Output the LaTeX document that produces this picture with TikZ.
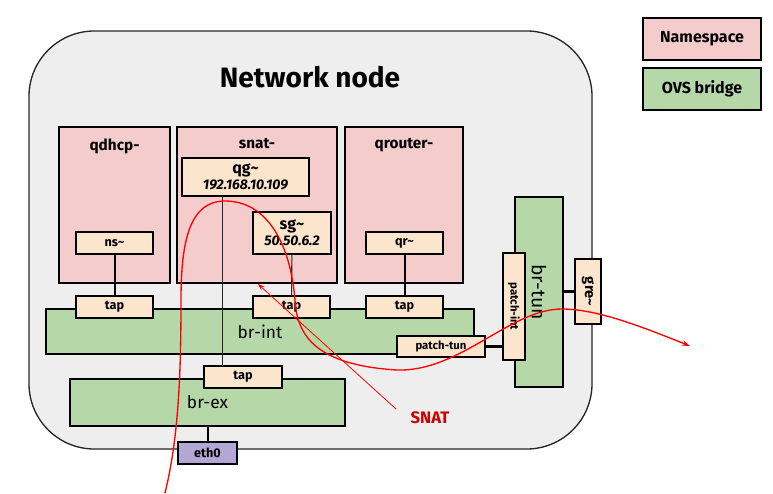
\documentclass[tikz,border=0pt]{standalone}
\usepackage{fontspec}
\setmainfont{Fira Sans}
\usepackage{xcolor}
\usepackage{tikz}
\usetikzlibrary{arrows.meta,positioning}
\definecolor{nspink}{HTML}{F4CCCC}
\definecolor{ovsgreen}{HTML}{B6D7A8}
\definecolor{portbeige}{HTML}{FCE5CD}
\definecolor{nicpurple}{HTML}{B4A7D6}
\definecolor{hostgray}{HTML}{EEEEEE}
\definecolor{snatred}{HTML}{CC0000}
\newcommand{\tld}{\char"007E}

\begin{document}
\begin{tikzpicture}[x=0.75pt,y=-0.75pt,
  sz/.style 2 args={minimum width=#1*0.75pt,minimum height=#2*0.75pt},
  box/.style={draw,line width=1.5pt,inner sep=0pt,outer sep=0pt},
  nsbox/.style={box,fill=nspink},
  brbox/.style={box,fill=ovsgreen,font=\fontsize{13}{15}\selectfont},
  portbox/.style={box,fill=portbeige,font=\bfseries\fontsize{9.5}{11}\selectfont},
  nstitle/.style={inner sep=0pt,font=\bfseries\fontsize{11.5}{13}\selectfont},
  legendbox/.style={box,font=\bfseries\fontsize{12}{14}\selectfont},
  wire/.style={line width=1.5pt},
  thinwire/.style={line width=0.8pt,black!85},
  patchwire/.style={line width=2.2pt},
  flow/.style={red,line width=1pt,-{Stealth[length=6pt,width=4pt]}}]
\useasboundingbox (0,0) rectangle (773,493);

\node[draw=black!85,line width=1pt,fill=hostgray,rounded corners=49pt,sz={563}{418}] (host) at (310.5,240) {};
\node[font=\bfseries\fontsize{21}{24}\selectfont] (hosttitle) at (310,77) {Network node};

\node[legendbox,fill=nspink,sz={118}{42}] (legns) at (702,39) {Namespace};
\node[legendbox,fill=ovsgreen,sz={118}{42}] (legovs) at (702,89) {OVS bridge};

\node[nsbox,sz={111}{156}] (qdhcp) at (114.5,205) {};
\node[nsbox,sz={160}{156}] (snat) at (257,205) {};
\node[nsbox,sz={118}{156}] (qrouter) at (404,205) {};
\node[nstitle,below=8.5pt of qdhcp.north] (qdhcplbl) {qdhcp-};
\node[nstitle,below=8.5pt of snat.north] (snatlbl) {snat-};
\node[nstitle,below=8.5pt of qrouter.north] (qrouterlbl) {qrouter-};

\node[portbox,sz={77}{22}] (ns) at (114.5,243) {ns\tld};
\node[portbox,sz={127}{38},align=center,font=\bfseries\fontsize{12}{13}\selectfont] (qg) at (245.5,177) {qg\tld\\[-1pt]{\itshape\fontsize{10.5}{12}\selectfont 192.168.10.109}};
\node[portbox,sz={78}{42},align=center,font=\bfseries\fontsize{12}{13}\selectfont] (sg) at (292,233) {sg\tld\\[-1pt]{\itshape\fontsize{10.5}{12}\selectfont 50.50.6.2}};
\node[portbox,sz={77}{22}] (qr) at (404.5,243) {qr\tld};

\node[brbox,sz={428}{45}] (brint) at (260,331.5) {br-int};
\node[portbox,sz={77}{22}] (tapdhcp) at (114.5,307) {tap};
\node[portbox,sz={77}{22}] (tapsnat) at (291.5,307) {tap};
\node[portbox,sz={77}{22}] (taprouter) at (404.5,307) {tap};
\node[portbox,sz={88}{21},font=\bfseries\fontsize{8.5}{10}\selectfont] (patchtun) at (441,346.5) {patch-tun};

\node[brbox,sz={48}{190},font=\fontsize{14.5}{16}\selectfont] (brtun) at (539,292) {\rotatebox{-90}{br-tun}};
\node[portbox,sz={22}{107},font=\bfseries\fontsize{8.5}{10}\selectfont] (patchint) at (514,306.5) {\rotatebox{-90}{patch-int}};
\node[portbox,sz={26}{65},font=\bfseries\fontsize{11}{12}\selectfont] (gre) at (588,291.5) {\rotatebox{-90}{gre\tld}};

\node[brbox,sz={275}{47}] (brex) at (207.5,402.5) {br-ex};
\node[portbox,sz={78}{22}] (tapex) at (243,377) {tap};
\node[portbox,fill=nicpurple,sz={59}{22}] (eth) at (207.5,453) {eth0};

\coordinate (exstub) at ([xshift=14pt]tapex.north west);
\draw[wire] (ns) -- (tapdhcp);
\draw[wire] (qr) -- (taprouter);
\draw[thinwire] (sg) -- (tapsnat);
\draw[thinwire] (qg.south -| exstub) -- (exstub);
\draw[wire] (brex.south -| eth.north) -- (eth.north);
\draw[patchwire] (patchtun.east) -- (patchtun.east -| patchint.west);
\draw[patchwire] (brtun.east |- gre.west) -- (gre.west);

\coordinate (flowin) at (165,493);
\coordinate (flowout) at (690,346);
\draw[flow] (flowin) .. controls (178,440) and (181,380) .. (181,300)
  .. controls (181,240) and (190,201) .. (225,201)
  .. controls (265,201) and (290,240) .. (295,300)
  .. controls (297,335) and (315,365) .. (397,370)
  .. controls (460,372) and (510,309) .. (562,309)
  .. controls (598,309) and (645,328) .. (flowout);

\node[text=snatred,font=\bfseries\fontsize{12.5}{14}\selectfont] (snatnote) at (430,418) {SNAT};
\coordinate (snattip) at (258,284);
\draw[red,line width=0.6pt,shorten <=10pt,-{Stealth[length=5pt,width=3.5pt]}] (snatnote.west) -- (snattip);
\end{tikzpicture}
\end{document}
